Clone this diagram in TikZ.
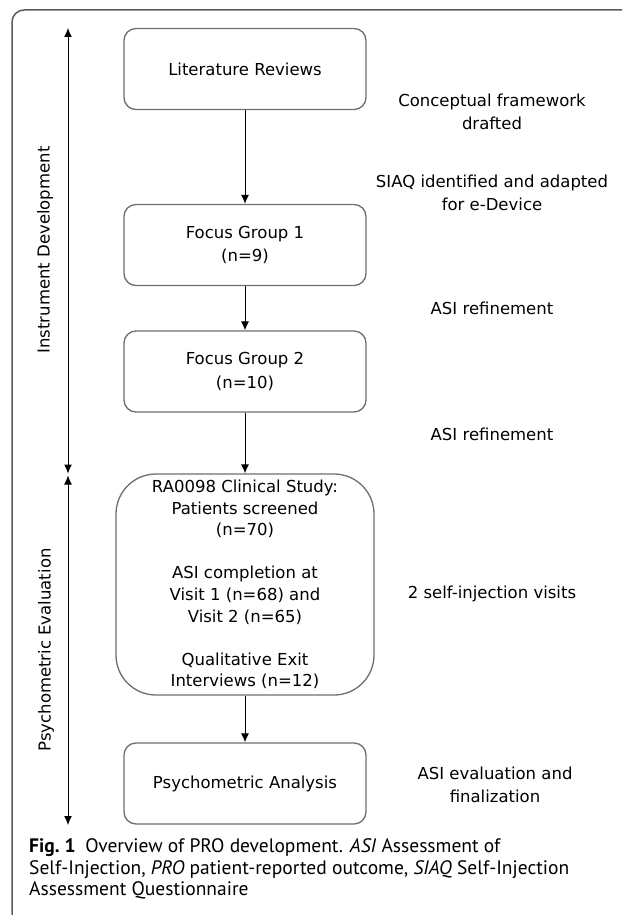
\documentclass[tikz,border=0pt]{standalone}
\usepackage{fontspec}
\setmainfont{DejaVu Sans}
\newfontfamily\capfont{PT Sans}
\usetikzlibrary{arrows.meta}
\definecolor{boxgray}{HTML}{6E6E6E}
\definecolor{framegray}{HTML}{5A5A5A}
\tikzstyle{stage} = [rectangle, rounded corners=12pt, minimum width=242pt, minimum height=81pt, text centered, align=center, draw=boxgray, line width=1.3pt, font=\fontsize{16.5}{23.5}\selectfont]
\tikzstyle{study} = [stage, rounded corners=40pt, minimum width=258pt, minimum height=221pt, font=\fontsize{16.5}{21.6}\selectfont]
\tikzstyle{note} = [align=center, font=\fontsize{16.5}{23}\selectfont]
\tikzstyle{phase} = [rotate=90, font=\fontsize{16.5}{20}\selectfont]
\tikzstyle{arrow} = [line width=1pt,-{Latex[length=9pt,width=8pt]}]
\tikzstyle{span} = [line width=1pt,{Latex[length=9pt,width=8pt]}-{Latex[length=9pt,width=8pt]}]

\begin{document}
\begin{tikzpicture}[x=1pt,y=-1pt]
\useasboundingbox (0,0) rectangle (622,915);
\draw[framegray,line width=1.5pt,rounded corners=12pt] (12,915) -- (12,10) -- (622,10);

% flow boxes
\node[stage] (lit) at (245,69) {Literature Reviews};
\node[stage] (fg1) at (245,245) {Focus Group 1\\(n=9)};
\node[stage] (fg2) at (245,371.5) {Focus Group 2\\(n=10)};
\node[study] (ra) at (245,584.5) {RA0098 Clinical Study:\\Patients screened\\(n=70)\\[21.6pt]
 ASI completion at\\Visit 1 (n=68) and\\Visit 2 (n=65)\\[21.6pt]Qualitative Exit\\Interviews (n=12)};
\node[stage] (pa) at (245,783.5) {Psychometric Analysis};

\draw[arrow] (lit) -- (fg1);
\draw[arrow] (fg1) -- (fg2);
\draw[arrow] (fg2) -- (ra);
\draw[arrow] (ra) -- (pa);

% phases on the left
\coordinate (devtop) at (68,28);
\coordinate (devbot) at (68,473.5);
\coordinate (evtop) at (68,475.5);
\coordinate (evbot) at (68,825);
\draw[span] (devbot) -- (devtop);
\draw[span] (evtop) -- (evbot);
\node[phase] (dev) at (45,250) {Instrument Development};
\node[phase] (eval) at (46,650) {Psychometric Evaluation};

% notes on the right
\node[note] (n1) at (492,112) {Conceptual framework\\drafted};
\node[note] (n2) at (492,193) {SIAQ identified and adapted\\for e-Device};
\node[note] (n3) at (492,308) {ASI refinement};
\node[note] (n4) at (492,434) {ASI refinement};
\node[note] (n5) at (492,594) {2 self-injection visits};
\node[note] (n6) at (495,785) {ASI evaluation and\\finalization};

% caption
\node[anchor=north west,align=left,inner sep=0pt,font=\capfont\fontsize{19.5}{21.5}\selectfont] (cap) at (29,838.5)
 {\textbf{Fig.~1}\enspace Overview of PRO development. \textit{ASI} Assessment of\\
 Self-Injection, \textit{PRO} patient-reported outcome, \textit{SIAQ} Self-Injection\\
 Assessment Questionnaire};
\end{tikzpicture}
\end{document}
